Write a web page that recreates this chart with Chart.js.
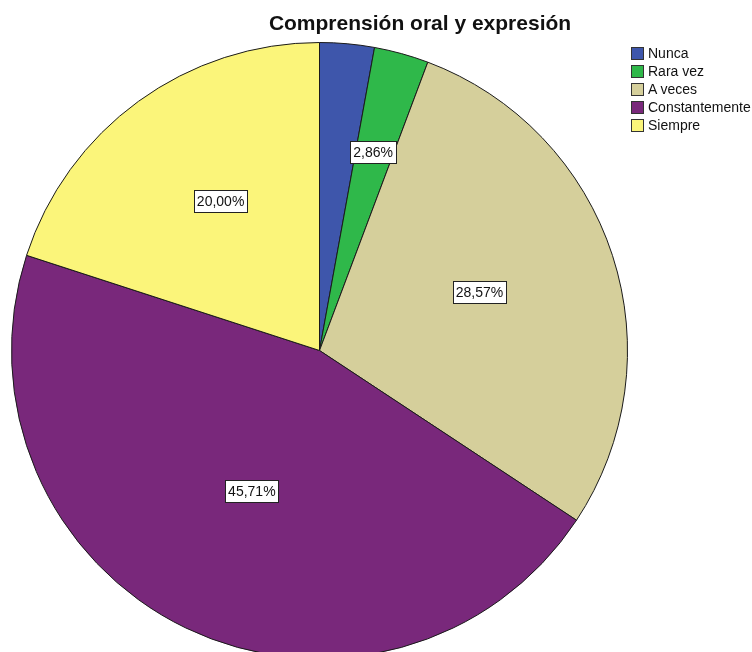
<!DOCTYPE html>
<html>
<head>
<meta charset="utf-8">
<script src="https://cdn.jsdelivr.net/npm/chart.js@4/dist/chart.umd.min.js"></script>
<style>
  html, body { margin: 0; padding: 0; background: #fff; }
  #wrap { position: relative; width: 752px; height: 652px; overflow: hidden; font-family: "Liberation Sans", Arial, sans-serif; }
  #box { position: absolute; left: 0; top: 0; width: 752px; height: 720px; }
  #title { position: absolute; left: 0; width: 840px; top: 11px; line-height: 24px; text-align: center; font-size: 21px; font-weight: bold; color: #111; }
  #legend { position: absolute; left: 631px; top: 44px; font-size: 14px; color: #111; }
  .row { display: flex; align-items: center; height: 18px; white-space: nowrap; }
  .sw { width: 11px; height: 11px; border: 1px solid #333; margin-right: 4px; flex-shrink: 0; }
</style>
</head>
<body>
<div id="wrap">
  <div id="box"><canvas id="pie"></canvas></div>
  <div id="title">Comprensión oral y expresión</div>
  <div id="legend"></div>
</div>
<script>
const categories = ["Nunca", "Rara vez", "A veces", "Constantemente", "Siempre"];
const percents   = [2.86, 2.86, 28.57, 45.71, 20.00];
const shownLabels = [false, true, true, true, true];
const colors     = ["#3e56ab", "#2fb84a", "#d5cf9b", "#79287b", "#fbf57a"];

// legend built from the same arrays
const legendEl = document.getElementById("legend");
categories.forEach((c, i) => {
  const row = document.createElement("div");
  row.className = "row";
  row.innerHTML = `<span class="sw" style="background:${colors[i]}"></span><span>${c}</span>`;
  legendEl.appendChild(row);
});

// boxed percentage labels, placed inside each slice (fraction of radius / of sweep)
const boxLabels = {
  id: "boxLabels",
  afterDatasetsDraw(chart, args, opts) {
    const ctx = chart.ctx;
    const meta = chart.getDatasetMeta(0);
    ctx.save();
    ctx.font = "14px 'Liberation Sans', Arial, sans-serif";
    ctx.textAlign = "center";
    ctx.textBaseline = "middle";
    meta.data.forEach((arc, i) => {
      if (!shownLabels[i]) return;
      const p = arc.getProps(["x", "y", "startAngle", "endAngle", "outerRadius"], true);
      const ang = p.startAngle + (p.endAngle - p.startAngle) * opts.at[i];
      const r = p.outerRadius * opts.radius[i];
      const x = p.x + Math.cos(ang) * r;
      const y = p.y + Math.sin(ang) * r;
      const txt = percents[i].toFixed(2).replace(".", ",") + "%";
      const w = Math.round(ctx.measureText(txt).width + 6);
      const h = 22;
      const bx = Math.round(x - w / 2) + 0.5, by = Math.round(y - h / 2) + 0.5;
      ctx.fillStyle = "#fff";
      ctx.fillRect(bx, by, w, h);
      ctx.strokeStyle = "#222";
      ctx.lineWidth = 1;
      ctx.strokeRect(bx, by, w, h);
      ctx.fillStyle = "#111";
      ctx.fillText(txt, x, y + 1);
    });
    ctx.restore();
  }
};

new Chart(document.getElementById("pie"), {
  type: "pie",
  data: {
    labels: categories,
    datasets: [{
      data: percents,
      backgroundColor: colors,
      borderColor: "#1a1a1a",
      borderWidth: 1,
    }],
  },
  options: {
    responsive: true, maintainAspectRatio: false,
    animation: false,
    layout: { padding: { left: 11, right: 124, top: 42, bottom: 61 } },
    plugins: {
      legend: { display: false },
      tooltip: { enabled: false },
      boxLabels: {
        radius: [0, 0.667, 0.553, 0.506, 0.582],
        at: [0.5, 0.47, 0.48, 0.5, 0.535],
      },
    },
  },
  plugins: [boxLabels],
});
</script>
</body>
</html>
